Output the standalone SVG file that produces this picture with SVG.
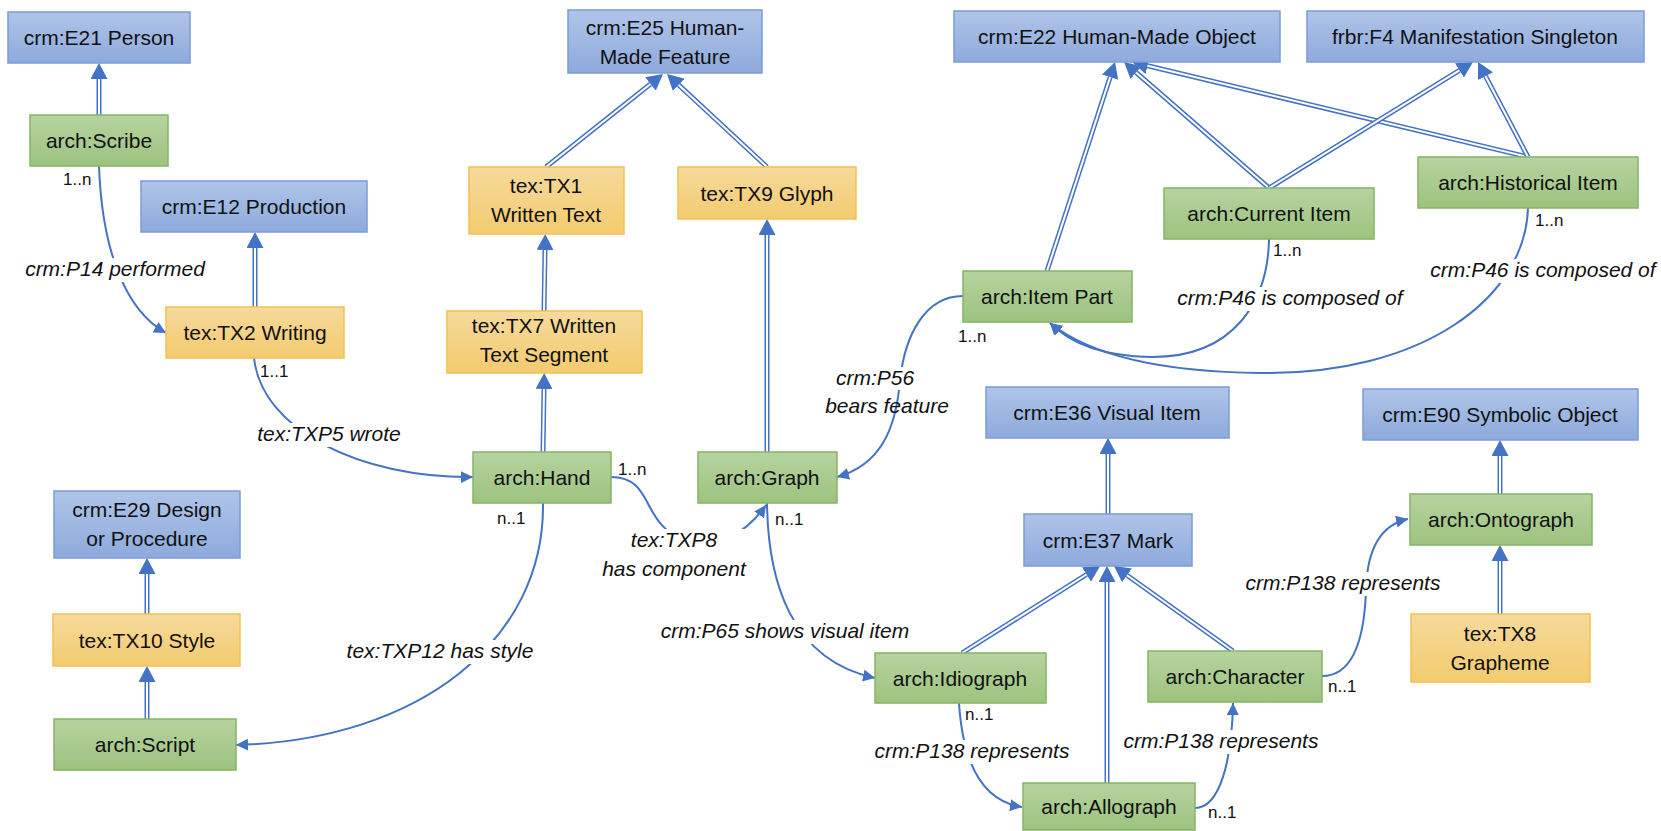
<svg xmlns="http://www.w3.org/2000/svg" width="1661" height="831" viewBox="0 0 1661 831">
<style>
.node rect{stroke-width:1.5}
.blue rect{fill:url(#gBlue);stroke:#7a9dd8}
.green rect{fill:url(#gGreen);stroke:#85b564}
.yellow rect{fill:url(#gYellow);stroke:#f0c150}
.node text{font-family:"Liberation Sans",Arial,sans-serif;font-size:21px;fill:#111;text-anchor:middle}
.io{fill:none;stroke:#4472c4;stroke-width:5;marker-end:url(#tri)}
.ii{fill:none;stroke:#fff;stroke-width:2}
.as{fill:none;stroke:#4472c4;stroke-width:2;marker-end:url(#arr)}
.bg{fill:#fff}
.lbl{font-family:"Liberation Sans",Arial,sans-serif;font-size:21px;font-style:italic;fill:#111;text-anchor:middle}
.card{font-family:"Liberation Sans",Arial,sans-serif;font-size:17px;fill:#111}
</style>
<defs>
<linearGradient id="gBlue" x1="0" y1="0" x2="0" y2="1"><stop offset="0" stop-color="#afc4e8"/><stop offset="1" stop-color="#8eaadc"/></linearGradient>
<linearGradient id="gGreen" x1="0" y1="0" x2="0" y2="1"><stop offset="0" stop-color="#b6d3a0"/><stop offset="1" stop-color="#9dc37f"/></linearGradient>
<linearGradient id="gYellow" x1="0" y1="0" x2="0" y2="1"><stop offset="0" stop-color="#f6da9c"/><stop offset="1" stop-color="#f3cb6f"/></linearGradient>
<marker id="tri" markerUnits="userSpaceOnUse" markerWidth="17" markerHeight="17" refX="0" refY="8.5" orient="auto"><path d="M0,0 L16,8.5 L0,17 z" fill="#4472c4"/></marker>
<marker id="arr" markerUnits="userSpaceOnUse" markerWidth="13" markerHeight="12" refX="12" refY="6" orient="auto"><path d="M0,0 L12,6 L0,12 z" fill="#4472c4"/></marker>
</defs>
<rect width="1661" height="831" fill="#fff"/>
<g id="connectors">
<path class="io" d="M99,115 L99,79"/><path class="ii" d="M99,115 L99,79"/>
<path class="io" d="M255,307 L255,248"/><path class="ii" d="M255,307 L255,248"/>
<path class="io" d="M544,311 L545,250"/><path class="ii" d="M544,311 L545,250"/>
<path class="io" d="M546,167 L650.5,84"/><path class="ii" d="M546,167 L650.5,84"/>
<path class="io" d="M767,167 L678.7,84.9"/><path class="ii" d="M767,167 L678.7,84.9"/>
<path class="io" d="M767,452 L767,235"/><path class="ii" d="M767,452 L767,235"/>
<path class="io" d="M543,452 L544,389"/><path class="ii" d="M543,452 L544,389"/>
<path class="io" d="M1047,271 L1110.1,77.2"/><path class="ii" d="M1047,271 L1110.1,77.2"/>
<path class="io" d="M1269,188 L1136.1,72.5"/><path class="ii" d="M1269,188 L1136.1,72.5"/>
<path class="io" d="M1528,157 L1147.6,65.7"/><path class="ii" d="M1528,157 L1147.6,65.7"/>
<path class="io" d="M1269,188 L1459.4,70.4"/><path class="ii" d="M1269,188 L1459.4,70.4"/>
<path class="io" d="M1528,157 L1485.5,76.2"/><path class="ii" d="M1528,157 L1485.5,76.2"/>
<path class="io" d="M1108,514 L1108,454"/><path class="ii" d="M1108,514 L1108,454"/>
<path class="io" d="M962,653 L1086.5,574.5"/><path class="ii" d="M962,653 L1086.5,574.5"/>
<path class="io" d="M1107,783 L1107,582"/><path class="ii" d="M1107,783 L1107,582"/>
<path class="io" d="M1233,651 L1127,575.3"/><path class="ii" d="M1233,651 L1127,575.3"/>
<path class="io" d="M1500,494 L1500,456"/><path class="ii" d="M1500,494 L1500,456"/>
<path class="io" d="M1500,614 L1500,561"/><path class="ii" d="M1500,614 L1500,561"/>
<path class="io" d="M147,614 L147,574"/><path class="ii" d="M147,614 L147,574"/>
<path class="io" d="M147,719 L147,682"/><path class="ii" d="M147,719 L147,682"/>

<path class="as" d="M99,166 C102,250 125,310 166,333"/>
<path class="as" d="M254,358 C262,430 360,478 473,477"/>
<path class="as" d="M543,503 C545,640 420,740 236,745"/>
<path class="as" d="M611,477 C655,477 640,525 685,540 C715,550 745,535 766,505"/>
<path class="as" d="M767,503 C768,580 790,660 875,678"/>
<path class="as" d="M963,296 C925,296 905,335 900,380 C896,430 880,465 837,477"/>
<path class="as" d="M1269,239 C1268,300 1235,358 1150,357 C1100,356 1070,343 1050,323"/>
<path class="as" d="M1528,208 C1525,300 1420,375 1261,373 C1160,372 1090,355 1050,323"/>
<path class="as" d="M959,703 C962,750 975,800 1022,807"/>
<path class="as" d="M1195,808 C1220,808 1232,760 1233,703"/>
<path class="as" d="M1322,676 C1360,676 1365,620 1366,590 C1367,550 1380,525 1408,519"/>

<g id="labels">
<rect class="bg" x="20" y="258" width="192" height="24"/><text class="lbl" x="115" y="276">crm:P14 performed</text>
<rect class="bg" x="260" y="423" width="138" height="24"/><text class="lbl" x="329" y="441">tex:TXP5 wrote</text>
<rect class="bg" x="343" y="640" width="193" height="24"/><text class="lbl" x="440" y="658">tex:TXP12 has style</text>
<rect class="bg" x="600" y="529" width="150" height="53"/><text class="lbl" x="674" y="547">tex:TXP8</text><text class="lbl" x="674" y="576">has component</text>
<rect class="bg" x="655" y="620" width="261" height="24"/><text class="lbl" x="785" y="638">crm:P65 shows visual item</text>
<rect class="bg" x="830" y="367" width="88" height="23"/><text class="lbl" x="875" y="385">crm:P56</text><text class="lbl" x="887" y="413">bears feature</text>
<rect class="bg" x="1172" y="287" width="235" height="24"/><text class="lbl" x="1290" y="305">crm:P46 is composed of</text>
<rect class="bg" x="1425" y="259" width="236" height="24"/><text class="lbl" x="1543" y="277">crm:P46 is composed of</text>
<rect class="bg" x="870" y="740" width="205" height="24"/><text class="lbl" x="972" y="758">crm:P138 represents</text>
<rect class="bg" x="1119" y="730" width="204" height="24"/><text class="lbl" x="1221" y="748">crm:P138 represents</text>
<rect class="bg" x="1241" y="572" width="205" height="24"/><text class="lbl" x="1343" y="590">crm:P138 represents</text>
<text class="card" x="63" y="185">1..n</text>
<text class="card" x="260" y="377">1..1</text>
<text class="card" x="497" y="524">n..1</text>
<text class="card" x="618" y="475">1..n</text>
<text class="card" x="775" y="525">n..1</text>
<text class="card" x="958" y="342">1..n</text>
<text class="card" x="1273" y="256">1..n</text>
<text class="card" x="1535" y="226">1..n</text>
<text class="card" x="965" y="720">n..1</text>
<text class="card" x="1208" y="818">n..1</text>
<text class="card" x="1328" y="692">n..1</text>
</g>
</g>

<g id="n-e21" class="node blue"><rect x="8" y="12" width="182" height="51"/><text x="99" y="45">crm:E21 Person</text></g>
<g id="n-e12" class="node blue"><rect x="141" y="181" width="226" height="51"/><text x="254" y="214">crm:E12 Production</text></g>
<g id="n-e25" class="node blue"><rect x="568" y="10" width="194" height="63"/><text x="665" y="34.5">crm:E25 Human-</text><text x="665" y="63.5">Made Feature</text></g>
<g id="n-e22" class="node blue"><rect x="954" y="11" width="326" height="51"/><text x="1117" y="44">crm:E22 Human-Made Object</text></g>
<g id="n-f4" class="node blue"><rect x="1307" y="11" width="337" height="51"/><text x="1475" y="44">frbr:F4 Manifestation Singleton</text></g>
<g id="n-e29" class="node blue"><rect x="54" y="491" width="186" height="67"/><text x="147" y="517">crm:E29 Design</text><text x="147" y="546">or Procedure</text></g>
<g id="n-e36" class="node blue"><rect x="986" y="387" width="243" height="51"/><text x="1107" y="420">crm:E36 Visual Item</text></g>
<g id="n-e37" class="node blue"><rect x="1024" y="514" width="168" height="52"/><text x="1108" y="547.5">crm:E37 Mark</text></g>
<g id="n-e90" class="node blue"><rect x="1363" y="389" width="275" height="51"/><text x="1500" y="422">crm:E90 Symbolic Object</text></g>

<g id="n-scribe" class="node green"><rect x="30" y="115" width="138" height="51"/><text x="99" y="148">arch:Scribe</text></g>
<g id="n-hand" class="node green"><rect x="473" y="452" width="138" height="51"/><text x="542" y="485">arch:Hand</text></g>
<g id="n-graph" class="node green"><rect x="698" y="452" width="139" height="51"/><text x="767" y="485">arch:Graph</text></g>
<g id="n-itempart" class="node green"><rect x="963" y="271" width="169" height="51"/><text x="1047" y="304">arch:Item Part</text></g>
<g id="n-current" class="node green"><rect x="1164" y="188" width="210" height="51"/><text x="1269" y="221">arch:Current Item</text></g>
<g id="n-historical" class="node green"><rect x="1418" y="157" width="220" height="51"/><text x="1528" y="190">arch:Historical Item</text></g>
<g id="n-script" class="node green"><rect x="54" y="719" width="182" height="51"/><text x="145" y="752">arch:Script</text></g>
<g id="n-idiograph" class="node green"><rect x="875" y="653" width="171" height="50"/><text x="960" y="685.5">arch:Idiograph</text></g>
<g id="n-allograph" class="node green"><rect x="1023" y="783" width="172" height="47"/><text x="1109" y="814">arch:Allograph</text></g>
<g id="n-character" class="node green"><rect x="1148" y="651" width="174" height="51"/><text x="1235" y="684">arch:Character</text></g>
<g id="n-ontograph" class="node green"><rect x="1410" y="494" width="182" height="51"/><text x="1501" y="527">arch:Ontograph</text></g>

<g id="n-tx2" class="node yellow"><rect x="166" y="307" width="178" height="51"/><text x="255" y="340">tex:TX2 Writing</text></g>
<g id="n-tx1" class="node yellow"><rect x="469" y="167" width="155" height="67"/><text x="546" y="193">tex:TX1</text><text x="546" y="222">Written Text</text></g>
<g id="n-tx9" class="node yellow"><rect x="678" y="167" width="178" height="52"/><text x="767" y="200.5">tex:TX9 Glyph</text></g>
<g id="n-tx7" class="node yellow"><rect x="447" y="311" width="195" height="62"/><text x="544" y="333">tex:TX7 Written</text><text x="544" y="362">Text Segment</text></g>
<g id="n-tx10" class="node yellow"><rect x="53" y="614" width="187" height="52"/><text x="147" y="647.5">tex:TX10 Style</text></g>
<g id="n-tx8" class="node yellow"><rect x="1411" y="614" width="179" height="68"/><text x="1500" y="641">tex:TX8</text><text x="1500" y="670">Grapheme</text></g>
</svg>
